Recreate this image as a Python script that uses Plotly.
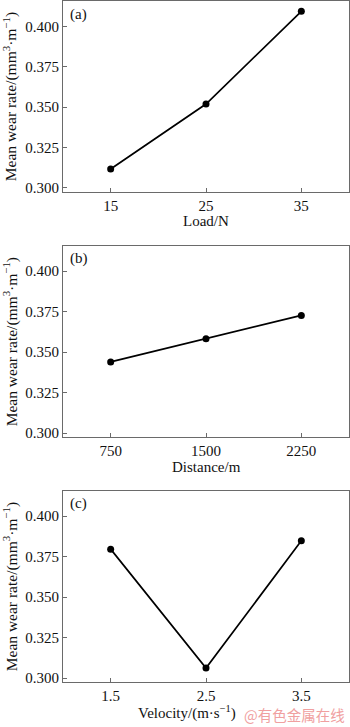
import plotly.graph_objects as go

load_x = [15, 25, 35]
load_y = [0.3116, 0.3519, 0.4094]
dist_x = [750, 1500, 2250]
dist_y = [0.3440, 0.3583, 0.3727]
vel_x = [1.5, 2.5, 3.5]
vel_y = [0.3796, 0.3063, 0.3847]

y_ticks = [0.300, 0.325, 0.350, 0.375, 0.400]
y_ticklabels = ["0.300", "0.325", "0.350", "0.375", "0.400"]

W, H = 350, 727
FONT = "Liberation Serif, Times New Roman, serif"

fig = go.Figure()

panels = [
    (load_x, load_y, [10, 40], [15, 25, 35], ["15", "25", "35"], "Load/N", "(a)", (0.5, 192)),
    (dist_x, dist_y, [375, 2625], [750, 1500, 2250], ["750", "1500", "2250"], "Distance/m", "(b)", (246.7, 439.3)),
    (vel_x, vel_y, [1.0, 4.0], [1.5, 2.5, 3.5], ["1.5", "2.5", "3.5"], "Velocity/(m·s<sup>−1</sup>)", "(c)", (493.3, 686)),
]

axis_color = "#6a6a6a"
annotations = []
for i, (xs, ys, xr, xt, xtl, xtitle, letter, (top, bot)) in enumerate(panels):
    n = "" if i == 0 else str(i + 1)
    fig.add_trace(go.Scatter(
        x=xs, y=ys, mode="lines+markers",
        line=dict(color="black", width=1.7),
        marker=dict(color="black", size=7),
        xaxis="x" + n, yaxis="y" + n, showlegend=False,
    ))
    dom = [1 - bot / H, 1 - top / H]
    fig.layout["xaxis" + n] = dict(
        domain=[0, 1], range=xr, tickvals=xt, ticktext=xtl,
        anchor="y" + n, showline=True, mirror=True, linecolor=axis_color, linewidth=1,
        ticks="inside", ticklen=4, tickcolor=axis_color, showgrid=False, zeroline=False,
        tickfont=dict(family=FONT, size=15, color="#111"),
    )
    fig.layout["yaxis" + n] = dict(
        domain=dom, range=[0.2975, 0.4155], tickvals=y_ticks, ticktext=y_ticklabels,
        anchor="x" + n, showline=True, mirror=True, linecolor=axis_color, linewidth=1,
        ticks="inside", ticklen=4, tickcolor=axis_color, showgrid=False, zeroline=False,
        tickfont=dict(family=FONT, size=15, color="#111"),
        title=dict(text="Mean wear rate/(mm<sup>3</sup>·m<sup>−1</sup>)",
                   font=dict(family=FONT, size=15.5, color="#111"), standoff=6),
    )
    xcenter = 206 if i < 2 else 187
    annotations.append(dict(
        text=xtitle, xref="paper", yref="paper",
        x=(xcenter - 63) / 286, y=1 - (bot + 30) / H,
        xanchor="center", yanchor="middle", showarrow=False,
        font=dict(family=FONT, size=15, color="#111"),
    ))
    annotations.append(dict(
        text=letter, xref="paper", yref="paper",
        x=(68 - 63) / 286, y=1 - (top + 13) / H,
        xanchor="left", yanchor="middle", showarrow=False,
        font=dict(family=FONT, size=15, color="#111"),
    ))

annotations.append(dict(
    text="@有色金属在线", xref="paper", yref="paper",
    x=(347 - 63) / 286, y=1 - 718 / H, xanchor="right", yanchor="middle",
    showarrow=False, font=dict(family="Noto Sans CJK SC", size=14.5, color="#f0a0a0"),
))

fig.update_layout(
    width=W, height=H, margin=dict(l=63, r=1, t=0, b=0),
    paper_bgcolor="white", plot_bgcolor="white",
    annotations=annotations,
)

fig.write_html("out.html")
